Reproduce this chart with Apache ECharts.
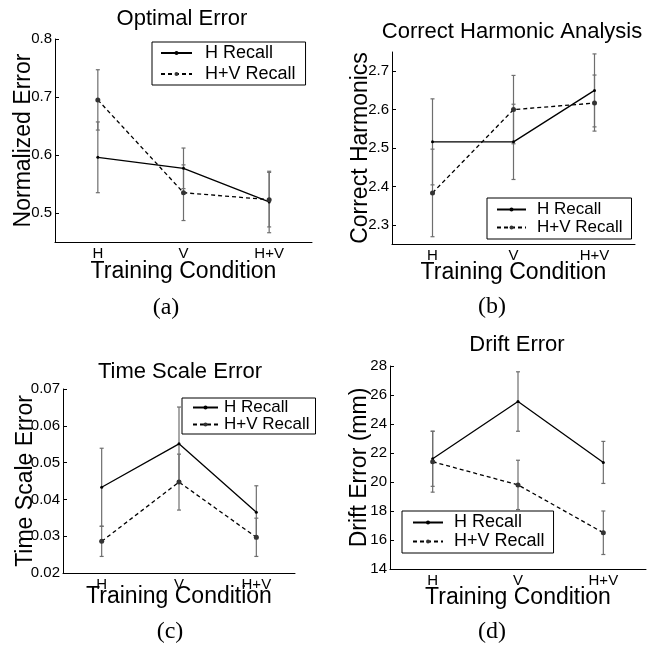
<!DOCTYPE html>
<html>
<head>
<meta charset="utf-8">
<script src="https://cdn.jsdelivr.net/npm/echarts@6/dist/echarts.min.js"></script>
<style>
  html, body { margin: 0; padding: 0; background: #fff; }
  #chart { width: 651px; height: 651px; }
</style>
</head>
<body>
<div id="chart"></div>
<script>
// categories shared by all four panels
const categories = ['H', 'V', 'H+V'];

// (a) optimal error
const optimalH = [0.596, 0.577, 0.519];
const optimalHErr = [0.061, 0.035, 0.053];
const optimalHV = [0.695, 0.535, 0.523];
const optimalHVErr = [0.052, 0.048, 0.047];
const optimalTicks = [0.5, 0.6, 0.7, 0.8];

// (b) correct harmonic analysis
const harmH = [2.516, 2.516, 2.650];
const harmHErr = [0.112, 0.098, 0.095];
const harmHV = [2.383, 2.600, 2.617];
const harmHVErr = [0.114, 0.089, 0.073];
const harmTicks = [2.3, 2.4, 2.5, 2.6, 2.7];

// (c) time scale error
const timeH = [0.0433, 0.0551, 0.0365];
const timeHErr = [0.0106, 0.0100, 0.0072];
const timeHV = [0.0286, 0.0447, 0.0297];
const timeHVErr = [0.0041, 0.0076, 0.0052];
const timeTicks = [0.02, 0.03, 0.04, 0.05, 0.06, 0.07];

// (d) drift error
const driftH = [21.6, 25.55, 21.35];
const driftHErr = [1.9, 2.05, 1.45];
const driftHV = [21.4, 19.8, 16.5];
const driftHVErr = [2.1, 1.7, 1.5];
const driftTicks = [14, 16, 18, 20, 22, 24, 26, 28];

const FONT = "'Liberation Sans', Arial, Helvetica, sans-serif";
const SERIF = "'Liberation Serif', 'DejaVu Serif', serif";

const chart = echarts.init(document.getElementById('chart'));

// legend: [left, top, fontSize, padL, padR, padV, iconWidth, textGap, lineHeight, itemGap]
const panels = [
  {
    title: 'Optimal Error', titlePos: [182, 8], caption: '(a)', capPos: [166, 296],
    grid: { left: 55, top: 39, width: 257, height: 203 },
    yName: 'Normalized Error', yGap: 20, xGap: 18, min: 0.45, max: 0.8, ticks: optimalTicks,
    h: optimalH, hErr: optimalHErr, hv: optimalHV, hvErr: optimalHVErr,
    legend: [152, 42, 18, 8, 10, 2, 31, 13, 20, 3],
  },
  {
    title: 'Correct Harmonic Analysis', titlePos: [512, 21], caption: '(b)', capPos: [492, 295],
    grid: { left: 392, top: 52, width: 243, height: 192 },
    yName: 'Correct Harmonics', yGap: 20, xGap: 17.5, min: 2.25, max: 2.75, ticks: harmTicks,
    h: harmH, hErr: harmHErr, hv: harmHV, hvErr: harmHVErr,
    legend: [487, 198, 17, 9, 9, 3, 29, 11, 18, 1],
  },
  {
    title: 'Time Scale Error', titlePos: [180, 361], caption: '(c)', capPos: [170, 620],
    grid: { left: 63, top: 389, width: 232, height: 184 },
    yName: 'Time Scale Error', yGap: 26, xGap: 12, min: 0.02, max: 0.07, ticks: timeTicks,
    h: timeH, hErr: timeHErr, hv: timeHV, hvErr: timeHVErr,
    legend: [182, 398, 17, 10, 6, 1, 25, 6, 18, 0],
  },
  {
    title: 'Drift Error', titlePos: [517, 334], caption: '(d)', capPos: [492, 620],
    grid: { left: 390, top: 366, width: 256, height: 203 },
    yName: 'Drift Error (mm)', yGap: 18.5, xGap: 17, min: 14, max: 28, ticks: driftTicks,
    h: driftH, hErr: driftHErr, hv: driftHV, hvErr: driftHVErr,
    legend: [402, 511, 18, 10, 9, 2.5, 30, 11, 20, 1],
  },
];

function errorBar(params, api) {
  const x = api.value(0);
  const v = api.value(1);
  const e = api.value(2);
  const top = api.coord([x, v + e]);
  const bot = api.coord([x, v - e]);
  const style = { stroke: '#6e6e6e', lineWidth: 1.2 };
  return {
    type: 'group',
    children: [
      { type: 'line', shape: { x1: top[0], y1: top[1], x2: bot[0], y2: bot[1] }, style },
      { type: 'line', shape: { x1: top[0] - 2, y1: top[1], x2: top[0] + 2, y2: top[1] }, style },
      { type: 'line', shape: { x1: bot[0] - 2, y1: bot[1], x2: bot[0] + 2, y2: bot[1] }, style },
    ],
  };
}

const title = [];
const grid = [];
const xAxis = [];
const yAxis = [];
const legend = [];
const series = [];

panels.forEach((p, i) => {
  const lg = p.legend;
  title.push({
    text: p.title, left: p.titlePos[0], top: p.titlePos[1], textAlign: 'center', padding: 0,
    textStyle: { fontFamily: FONT, fontSize: 22, fontWeight: 'normal', color: '#000' },
  });
  title.push({
    text: p.caption, left: p.capPos[0], top: p.capPos[1], textAlign: 'center', padding: 0,
    textStyle: { fontFamily: SERIF, fontSize: 24, fontWeight: 'normal', color: '#000' },
  });
  grid.push(p.grid);
  xAxis.push({
    type: 'category', gridIndex: i, data: categories, boundaryGap: true,
    name: 'Training Condition', nameLocation: 'middle', nameGap: p.xGap, nameMoveOverlap: false,
    nameTextStyle: { fontFamily: FONT, fontSize: 23, color: '#000' },
    axisLine: { lineStyle: { color: '#000', width: 1 } },
    axisTick: { inside: true, alignWithLabel: true, length: 4, lineStyle: { color: '#000' } },
    axisLabel: { fontFamily: FONT, fontSize: 15, color: '#000', margin: 4 },
    splitLine: { show: false },
  });
  yAxis.push({
    type: 'value', gridIndex: i, min: p.min, max: p.max,
    name: p.yName, nameLocation: 'middle', nameGap: p.yGap, nameRotate: 90, nameMoveOverlap: false,
    nameTextStyle: { fontFamily: FONT, fontSize: 23, color: '#000' },
    axisLine: { show: true, lineStyle: { color: '#000', width: 1 } },
    axisTick: { show: true, inside: true, length: 4, customValues: p.ticks, lineStyle: { color: '#000' } },
    axisLabel: { fontFamily: FONT, fontSize: 15, color: '#000', margin: 3, customValues: p.ticks },
    splitLine: { show: false },
  });
  legend.push({
    data: ['H Recall', 'H+V Recall'], orient: 'vertical',
    left: lg[0], top: lg[1],
    padding: [lg[5], lg[4], lg[5], lg[3]], itemGap: lg[9], itemWidth: lg[6], itemHeight: 5,
    borderColor: '#000', borderWidth: 1, backgroundColor: '#fff',
    formatter: '{t|{name}}',
    textStyle: {
      fontFamily: FONT, fontSize: lg[2], color: '#000',
      rich: { t: { fontFamily: FONT, fontSize: lg[2], color: '#000', padding: [0, 0, 0, lg[7] - 5], lineHeight: lg[8] } },
    },
  });
  series.push({
    name: 'H Recall err', type: 'custom', xAxisIndex: i, yAxisIndex: i, z: 1,
    renderItem: errorBar, encode: { x: 0, y: 1 },
    data: p.h.map((v, k) => [k, v, p.hErr[k]]),
  });
  series.push({
    name: 'H+V Recall err', type: 'custom', xAxisIndex: i, yAxisIndex: i, z: 1,
    renderItem: errorBar, encode: { x: 0, y: 1 },
    data: p.hv.map((v, k) => [k, v, p.hvErr[k]]),
  });
  series.push({
    name: 'H Recall', type: 'line', xAxisIndex: i, yAxisIndex: i, z: 3,
    data: p.h, symbol: 'circle', symbolSize: 3,
    lineStyle: { color: '#000', width: 1.3, type: 'solid' },
    itemStyle: { color: '#000' },
  });
  series.push({
    name: 'H+V Recall', type: 'line', xAxisIndex: i, yAxisIndex: i, z: 3,
    data: p.hv, symbol: 'circle', symbolSize: 5,
    lineStyle: { color: '#000', width: 1.3, type: [4, 3] },
    itemStyle: { color: '#333' },
  });
});

const option = {
  animation: false,
  backgroundColor: '#fff',
  title,
  grid,
  xAxis,
  yAxis,
  legend,
  series,
};

chart.setOption(option);
</script>
</body>
</html>
